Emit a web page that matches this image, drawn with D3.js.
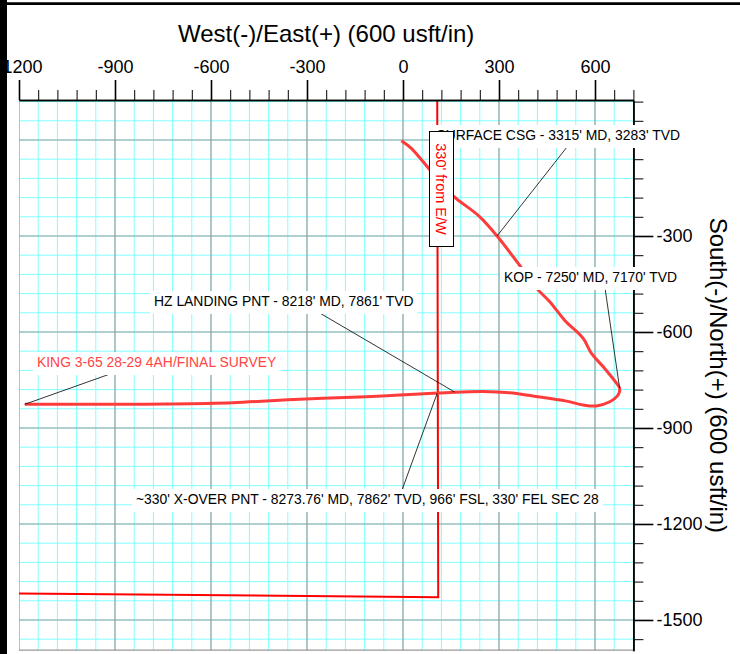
<!DOCTYPE html>
<html>
<head>
<meta charset="utf-8">
<script src="https://cdn.jsdelivr.net/npm/d3@7"></script>
<style>
  body { margin: 0; background: #fff; }
  svg text { font-family: "Liberation Sans", Arial, sans-serif; }
</style>
</head>
<body>
<svg id="chart" width="740" height="654"></svg>
<script>
  // plan view data, usft
  var xMajorTicks = [-1200, -900, -600, -300, 0, 300, 600];
  var yMajorTicks = [0, -300, -600, -900, -1200, -1500];
  var xTitle = 'West(-)/East(+) (600 usft/in)';
  var yTitle = 'South(-)/North(+) (600 usft/in)';

  var surveyEW = [-5, 26, 83, 154, 240, 294, 375, 417, 458, 505, 563, 589, 625, 667, 677,
    672, 646, 604, 563, 511, 406, 333, 250, 162, 109, -10, -114, -323, -532, -739, -948, -1182];
  var surveyNS = [-2, -26, -92, -172, -240, -300, -406, -463, -505, -563, -620, -667, -708, -760, -776,
    -797, -818, -831, -828, -816, -800, -790, -786, -788, -791, -797, -802, -810, -821, -825, -826, -826];

  // 330' setback line
  var setbackEW = [107, 110, -1210];
  var setbackNS = [130, -1429, -1417];

  var noteText = [
    'SURFACE CSG - 3315\' MD, 3283\' TVD',
    'KOP - 7250\' MD, 7170\' TVD',
    'HZ LANDING PNT - 8218\' MD, 7861\' TVD',
    'KING 3-65 28-29 4AH/FINAL SURVEY',
    '~330\' X-OVER PNT - 8273.76\' MD, 7862\' TVD, 966\' FSL, 330\' FEL SEC 28'
  ];
  var noteEW = [294, 677, 162, -1182, 107];
  var noteNS = [-300, -776, -788, -826, -791];

  // label layout (px): text anchor point, anchor side, leader start, colour
  var noteLayout = [
    {x: 680, y: 140, anchor: 'end', lx: 567, ly: 147, color: '#000'},
    {x: 504, y: 282, anchor: 'start', lx: 605, ly: 288, color: '#000'},
    {x: 154, y: 306, anchor: 'start', lx: 318, ly: 312, color: '#000'},
    {x: 37, y: 367, anchor: 'start', lx: 110, ly: 374, color: '#ff4545'},
    {x: 136, y: 504, anchor: 'start', lx: 402, ly: 490, color: '#000'}
  ];

  (function () {
    var svg = d3.select('#chart');
    var pLeft = 19, pRight = 633.4, pTop = 100, pBottom = 650.7;

    var x = d3.scaleLinear().domain([-1200, 720]).range([pLeft, pRight]);
    var y = d3.scaleLinear().domain([125, -1596]).range([pTop, pBottom]);

    svg.append('defs').append('clipPath').attr('id', 'plot')
        .append('rect')
        .attr('x', pLeft).attr('y', pTop)
        .attr('width', pRight - pLeft).attr('height', pBottom - pTop);

    var grid = svg.append('g').attr('clip-path', 'url(#plot)');
    var xMinor = d3.range(-1200, 721, 60),
        yMinor = d3.range(120, -1600, -60);

    grid.selectAll('.vminor').data(xMinor).enter().append('line')
        .attr('x1', function (d) { return x(d); }).attr('x2', function (d) { return x(d); })
        .attr('y1', pTop).attr('y2', pBottom)
        .attr('stroke', '#80ffff').attr('stroke-width', 1);
    grid.selectAll('.hminor').data(yMinor).enter().append('line')
        .attr('y1', function (d) { return y(d); }).attr('y2', function (d) { return y(d); })
        .attr('x1', pLeft).attr('x2', pRight)
        .attr('stroke', '#80ffff').attr('stroke-width', 1);
    grid.selectAll('.vmajor').data(xMajorTicks).enter().append('line')
        .attr('x1', function (d) { return x(d); }).attr('x2', function (d) { return x(d); })
        .attr('y1', pTop).attr('y2', pBottom)
        .attr('stroke', '#a0a0a0').attr('stroke-width', 1.2);
    grid.selectAll('.hmajor').data(yMajorTicks).enter().append('line')
        .attr('y1', function (d) { return y(d); }).attr('y2', function (d) { return y(d); })
        .attr('x1', pLeft).attr('x2', pRight)
        .attr('stroke', '#a0a0a0').attr('stroke-width', 1.2);
    grid.append('line')
        .attr('x1', pLeft).attr('x2', pRight).attr('y1', pBottom - 0.5).attr('y2', pBottom - 0.5)
        .attr('stroke', '#999').attr('stroke-width', 1.5);

    var line = d3.line()
        .x(function (d) { return x(d[0]); })
        .y(function (d) { return y(d[1]); });

    grid.append('path')
        .datum(d3.zip(setbackEW, setbackNS))
        .attr('d', line)
        .attr('fill', 'none').attr('stroke', '#ff0000').attr('stroke-width', 2);

    grid.append('path')
        .datum(d3.zip(surveyEW, surveyNS))
        .attr('d', line.curve(d3.curveCatmullRom))
        .attr('fill', 'none').attr('stroke', '#ff3c3c').attr('stroke-width', 3)
        .attr('stroke-linejoin', 'round');

    // axes
    var plain = function (d) { return String(d); };
    // the 0 label on the right sits under the casing note in the original
    var rightFmt = function (d) { return d === 0 ? '' : String(d); };

    var axisTopMinor = d3.axisTop(x).tickValues(xMinor).tickSize(10).tickSizeOuter(0).tickFormat('');
    var axisTopMajor = d3.axisTop(x).tickValues(xMajorTicks).tickSize(20).tickSizeOuter(0)
        .tickPadding(7).tickFormat(plain);
    var axisRightMinor = d3.axisRight(y).tickValues(yMinor).tickSize(10).tickSizeOuter(0).tickFormat('');
    var axisRightMajor = d3.axisRight(y).tickValues(yMajorTicks).tickSize(20).tickSizeOuter(0)
        .tickPadding(3).tickFormat(rightFmt);

    function styleAxis(g, w) {
      g.select('.domain').attr('stroke', '#000').attr('stroke-width', 1.5);
      g.selectAll('.tick line').attr('stroke', '#000').attr('stroke-width', w);
      g.selectAll('.tick text').attr('font-size', 18).attr('fill', '#000')
          .style('font-family', '"Liberation Sans", Arial, sans-serif');
    }

    svg.append('g').attr('transform', 'translate(0,' + pTop + ')').call(axisTopMinor).call(styleAxis, 1);
    svg.append('g').attr('transform', 'translate(0,' + pTop + ')').call(axisTopMajor).call(styleAxis, 1.6);
    svg.append('g').attr('transform', 'translate(' + pRight + ',0)').call(axisRightMinor).call(styleAxis, 1);
    svg.append('g').attr('transform', 'translate(' + pRight + ',0)').call(axisRightMajor).call(styleAxis, 1.6);

    svg.append('text')
        .attr('x', (pLeft + pRight) / 2).attr('y', 42)
        .attr('text-anchor', 'middle').attr('font-size', 24)
        .text(xTitle);
    svg.append('text')
        .attr('transform', 'translate(710,' + ((pTop + pBottom) / 2) + ') rotate(90)')
        .attr('text-anchor', 'middle').attr('font-size', 24)
        .text(yTitle);

    // annotations
    var notes = svg.append('g');
    noteLayout.forEach(function (p, i) {
      notes.append('line')
          .attr('x1', p.lx).attr('y1', p.ly)
          .attr('x2', x(noteEW[i])).attr('y2', y(noteNS[i]))
          .attr('stroke', '#000').attr('stroke-width', 0.8);
    });
    noteLayout.forEach(function (p, i) {
      var g = notes.append('g');
      var rect = g.append('rect').attr('fill', '#fff');
      var t = g.append('text')
          .attr('x', p.x).attr('y', p.y)
          .attr('text-anchor', p.anchor)
          .attr('font-size', 13.9).attr('fill', p.color)
          .text(noteText[i]);
      var bb = t.node().getBBox();
      rect.attr('x', bb.x - 4).attr('y', p.y - 15)
          .attr('width', bb.width + 8).attr('height', 23);
    });

    // setback label box
    var box = svg.append('g');
    box.append('rect')
        .attr('x', 429.5).attr('y', 131.5).attr('width', 24).attr('height', 115)
        .attr('fill', '#fff').attr('stroke', '#000').attr('stroke-width', 1);
    box.append('text')
        .attr('transform', 'translate(441.5,189) rotate(90)')
        .attr('text-anchor', 'middle').attr('dy', '0.35em')
        .attr('font-size', 14.5).attr('fill', '#ff0000')
        .text('330\' from E/W');

    // page frame
    svg.append('rect').attr('x', 0).attr('y', 0).attr('width', 7).attr('height', 654).attr('fill', '#000');
    svg.append('line').attr('x1', 7).attr('x2', 740).attr('y1', 3.6).attr('y2', 3.6)
        .attr('stroke', '#000').attr('stroke-width', 2.6);
  }());
</script>
</body>
</html>
